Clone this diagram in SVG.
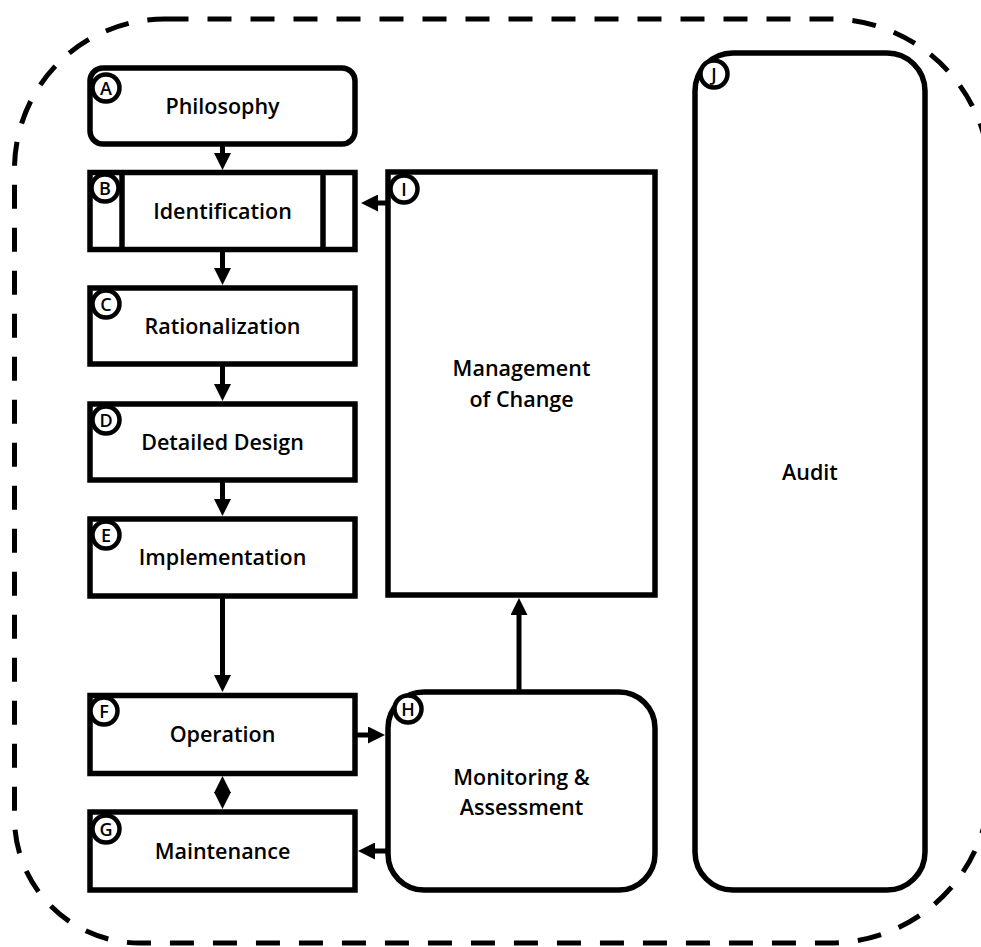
<svg xmlns="http://www.w3.org/2000/svg" width="981" height="947" viewBox="0 0 981 947">
<style>
.box{fill:#fff;stroke:#000;stroke-width:5.5}
.outer{fill:none;stroke:#000;stroke-width:5;stroke-dasharray:24 19}
.lbl{font-family:"Open Sans","Liberation Sans",sans-serif;font-weight:600;font-size:21.5px;fill:#000;text-anchor:middle}
.tag circle{fill:#fff;stroke:#000;stroke-width:4.5}
.tag text{font-family:"Open Sans","Liberation Sans",sans-serif;font-weight:600;font-size:18px;fill:#000;text-anchor:middle}
.con{fill:none;stroke:#000;stroke-width:5}
</style>
<defs>
<marker id="ah" markerUnits="userSpaceOnUse" viewBox="0 0 17 17" markerWidth="17" markerHeight="17" refX="7" refY="8.5" orient="auto-start-reverse">
<path d="M0,0 L17,8.5 L0,17 z" fill="#000"/>
</marker>
</defs>
<path class="outer" d="M164.5,19 H830 A160,160 0 0 1 990,179 V783 A160,160 0 0 1 830,943 H139.5 A125,125 0 0 1 14.5,818 V169 A150,150 0 0 1 164.5,19 Z"/>
<g id="connectors">
<line class="con" x1="222.5" y1="144" x2="222.5" y2="160" marker-end="url(#ah)"/>
<line class="con" x1="222.5" y1="249" x2="222.5" y2="275" marker-end="url(#ah)"/>
<line class="con" x1="222.5" y1="364" x2="222.5" y2="391" marker-end="url(#ah)"/>
<line class="con" x1="222.5" y1="480" x2="222.5" y2="506" marker-end="url(#ah)"/>
<line class="con" x1="222.5" y1="596" x2="222.5" y2="682" marker-end="url(#ah)"/>
<line class="con" x1="222.5" y1="786" x2="222.5" y2="799" marker-start="url(#ah)" marker-end="url(#ah)"/>
<line class="con" x1="355" y1="735" x2="375" y2="735" marker-end="url(#ah)"/>
<line class="con" x1="388" y1="851" x2="368" y2="851" marker-end="url(#ah)"/>
<line class="con" x1="519" y1="692" x2="519" y2="608" marker-end="url(#ah)"/>
<line class="con" x1="388" y1="203" x2="371" y2="203" marker-end="url(#ah)"/>
</g>
<g id="nodeA">
<rect class="box" x="90" y="68" width="265" height="76" rx="13"/>
<text class="lbl" x="222.5" y="114">Philosophy</text>
<g class="tag"><circle cx="106" cy="88" r="13.5"/><text x="106" y="94.5">A</text></g>
</g>
<g id="nodeB">
<rect class="box" x="90" y="172.5" width="265" height="77"/>
<line x1="122" y1="172.5" x2="122" y2="249.5" stroke="#000" stroke-width="5.5"/>
<line x1="323" y1="172.5" x2="323" y2="249.5" stroke="#000" stroke-width="5.5"/>
<text class="lbl" x="222.5" y="219">Identification</text>
<g class="tag"><circle cx="105" cy="188" r="13.5"/><text x="105" y="194.5">B</text></g>
</g>
<g id="nodeC">
<rect class="box" x="90" y="288" width="265" height="76"/>
<text class="lbl" x="222.5" y="334">Rationalization</text>
<g class="tag"><circle cx="106" cy="304" r="13.5"/><text x="106" y="310.5">C</text></g>
</g>
<g id="nodeD">
<rect class="box" x="90" y="404" width="265" height="76"/>
<text class="lbl" x="222.5" y="450">Detailed Design</text>
<g class="tag"><circle cx="106" cy="420" r="13.5"/><text x="106" y="426.5">D</text></g>
</g>
<g id="nodeE">
<rect class="box" x="90" y="519" width="265" height="77"/>
<text class="lbl" x="222.5" y="565">Implementation</text>
<g class="tag"><circle cx="106" cy="535" r="13.5"/><text x="106" y="541.5">E</text></g>
</g>
<g id="nodeF">
<rect class="box" x="90" y="695.5" width="265" height="78"/>
<text class="lbl" x="222.5" y="742">Operation</text>
<g class="tag"><circle cx="104" cy="711" r="13.5"/><text x="104" y="717.5">F</text></g>
</g>
<g id="nodeG">
<rect class="box" x="90" y="812" width="265" height="78"/>
<text class="lbl" x="222.5" y="859">Maintenance</text>
<g class="tag"><circle cx="106" cy="829" r="13.5"/><text x="106" y="835.5">G</text></g>
</g>
<g id="nodeH">
<rect class="box" x="388" y="692" width="267" height="198" rx="36"/>
<text class="lbl" x="521.5" y="785">Monitoring &amp;</text>
<text class="lbl" x="521.5" y="815">Assessment</text>
<g class="tag"><circle cx="408" cy="709" r="13.5"/><text x="408" y="715.5">H</text></g>
</g>
<g id="nodeI">
<rect class="box" x="388" y="172" width="267" height="423"/>
<text class="lbl" x="521.5" y="376">Management</text>
<text class="lbl" x="521.5" y="407">of Change</text>
<g class="tag"><circle cx="404" cy="189" r="13.5"/><text x="404" y="195.5">I</text></g>
</g>
<g id="nodeJ">
<rect class="box" x="695" y="53" width="230" height="837" rx="38"/>
<text class="lbl" x="810" y="480">Audit</text>
<g class="tag"><circle cx="714" cy="74" r="13.5"/><text x="714" y="80.5">J</text></g>
</g>
</svg>
